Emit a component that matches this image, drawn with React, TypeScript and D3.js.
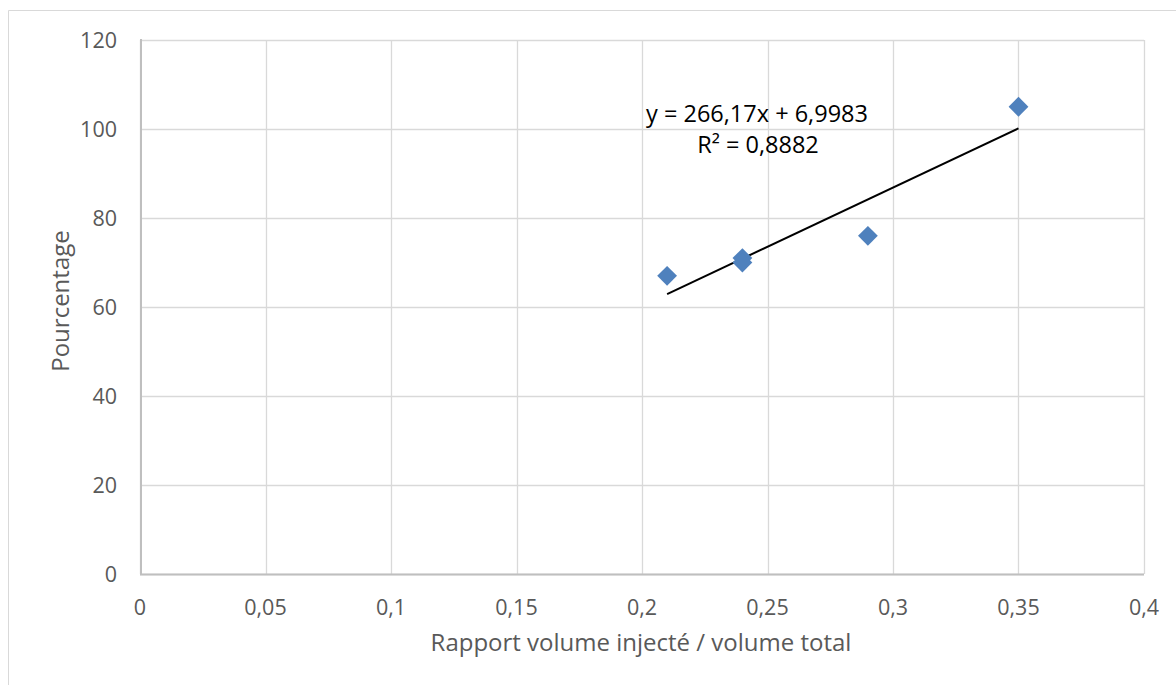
import React from "react";
import * as d3 from "d3";

const ratios = [0.21, 0.24, 0.24, 0.29, 0.35];
const percents = [67, 71, 70, 76, 105];
const xTicks = [0, 0.05, 0.1, 0.15, 0.2, 0.25, 0.3, 0.35, 0.4];
const yTicks = [0, 20, 40, 60, 80, 100, 120];
const xTitle = "Rapport volume injecté / volume total";
const yTitle = "Pourcentage";

const W = 1176;
const H = 685;
const FONT = "'Open Sans', sans-serif";

const fmt = (v: number) => String(v).replace(".", ",");

export default function App() {
  const x = d3.scaleLinear().domain([0, 0.4]).range([140, 1144]);
  const y = d3.scaleLinear().domain([0, 120]).range([574, 40]);

  const n = ratios.length;
  const mx = d3.mean(ratios) as number;
  const my = d3.mean(percents) as number;
  let sxy = 0, sxx = 0, syy = 0;
  for (let i = 0; i < n; i++) {
    sxy += (ratios[i] - mx) * (percents[i] - my);
    sxx += (ratios[i] - mx) ** 2;
    syy += (percents[i] - my) ** 2;
  }
  const slope = sxy / sxx;
  const intercept = my - slope * mx;
  const r2 = (sxy * sxy) / (sxx * syy);
  const x0 = d3.min(ratios) as number;
  const x1 = d3.max(ratios) as number;
  const trend = d3.line<number>()
    .x((d) => x(d))
    .y((d) => y(slope * d + intercept))([x0, x1]) as string;

  const eq = `y = ${fmt(+slope.toFixed(2))}x + ${fmt(+intercept.toFixed(4))}`;
  const r2txt = `R² = ${fmt(+r2.toFixed(4))}`;

  const diamond = d3.symbol().type(d3.symbolDiamond2).size(250)() as string;

  return (
    <div style={{ position: "absolute", left: 0, top: 0 }}>
      <svg width={W} height={H} style={{ display: "block" }}>
        <rect x={0} y={0} width={W} height={H} fill="#fff" />
        <line x1={8.5} y1={10.5} x2={W} y2={10.5} stroke="#d9d9d9" />
        <line x1={8.5} y1={10.5} x2={8.5} y2={H} stroke="#d9d9d9" />
        {yTicks.map((t) => (
          <line key={"gy" + t} x1={140} x2={1144} y1={Math.round(y(t)) + 0.5} y2={Math.round(y(t)) + 0.5} stroke="#d9d9d9" strokeWidth={1.3} />
        ))}
        {xTicks.map((t) => (
          <line key={"gx" + t} x1={Math.round(x(t)) + 0.5} x2={Math.round(x(t)) + 0.5} y1={40} y2={574} stroke="#d9d9d9" strokeWidth={1.3} />
        ))}
        <line x1={141} x2={141} y1={39} y2={575} stroke="#bfbfbf" strokeWidth={2} />
        <line x1={140} x2={1144} y1={574.5} y2={574.5} stroke="#bfbfbf" strokeWidth={2} />
        {yTicks.map((t) => (
          <text key={"ly" + t} x={117} y={y(t)} dy="0.35em" textAnchor="end" fontFamily={FONT} fontSize={21.5} fill="#595959">{fmt(t)}</text>
        ))}
        {xTicks.map((t) => (
          <text key={"lx" + t} x={x(t)} y={607} dy="0.35em" textAnchor="middle" fontFamily={FONT} fontSize={21.5} fill="#595959">{fmt(t)}</text>
        ))}
        <text x={641} y={643} dy="0.35em" textAnchor="middle" fontFamily={FONT} fontSize={24} fill="#595959">{xTitle}</text>
        <text transform={`translate(61,301) rotate(-90)`} dy="0.35em" textAnchor="middle" fontFamily={FONT} fontSize={24} fill="#595959">{yTitle}</text>
        <path d={trend} stroke="#000" strokeWidth={2} fill="none" />
        {ratios.map((r, i) => (
          <path key={"p" + i} d={diamond} transform={`translate(${x(r)},${y(percents[i])})`} fill="#4f81bd" />
        ))}
        <text x={757} y={114} dy="0.35em" textAnchor="middle" fontFamily={FONT} fontSize={23.5} fill="#000">{eq}</text>
        <text x={758} y={145} dy="0.35em" textAnchor="middle" fontFamily={FONT} fontSize={23.5} fill="#000">{r2txt}</text>
      </svg>
    </div>
  );
}
